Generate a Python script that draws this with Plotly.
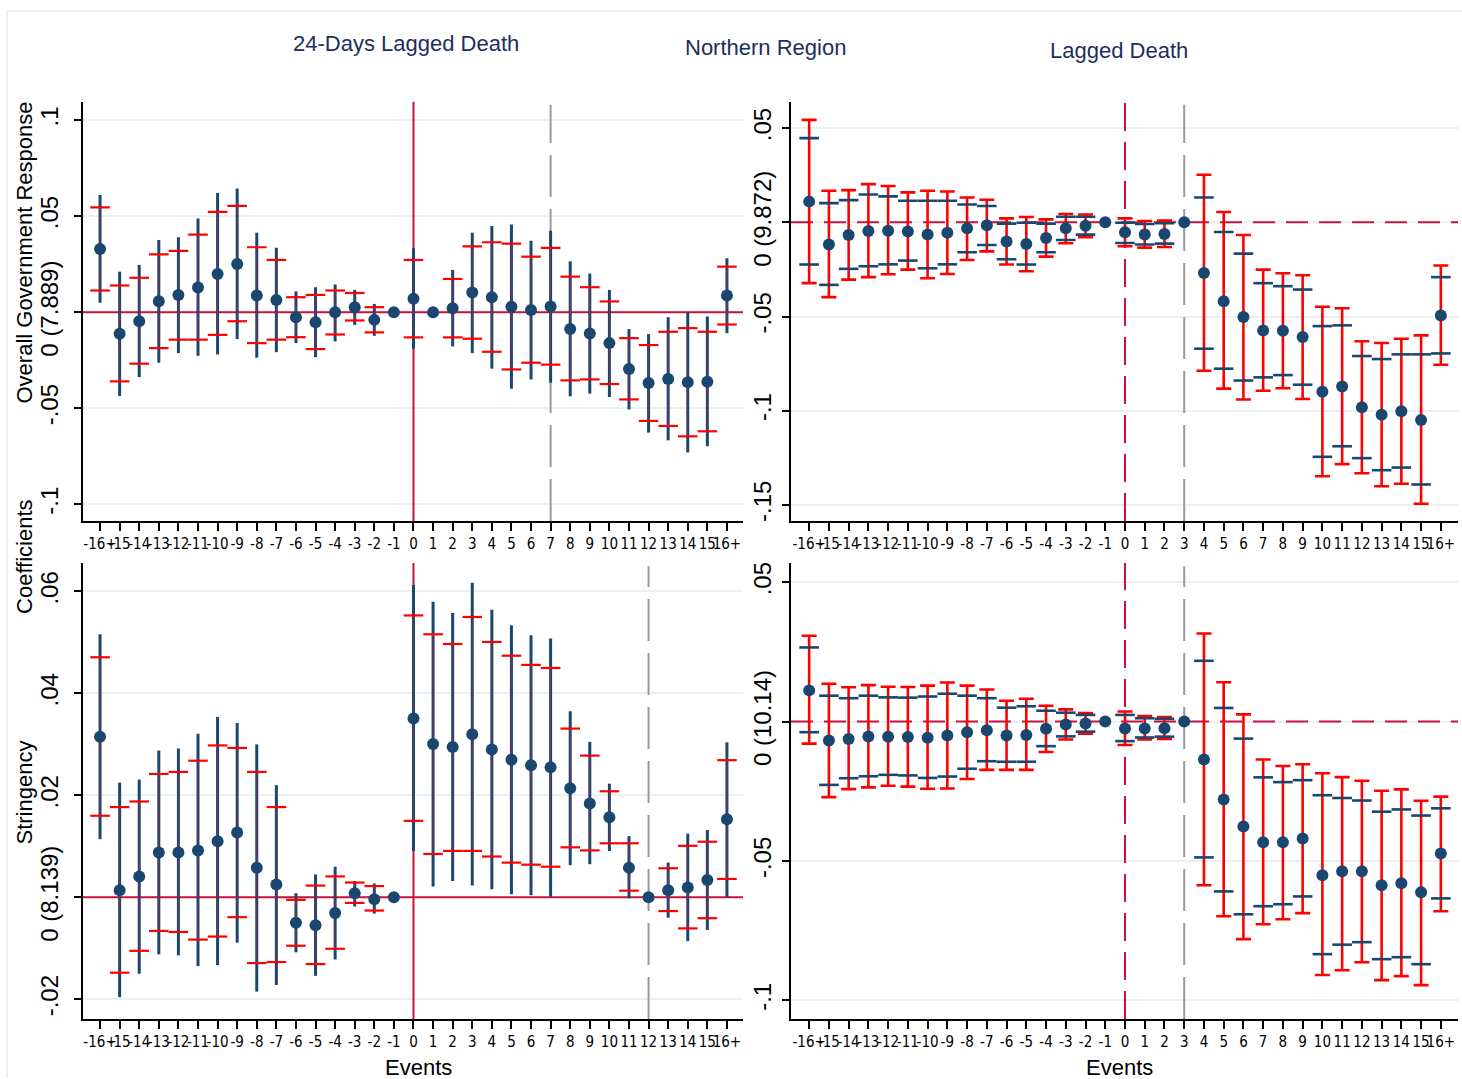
import plotly.graph_objects as go

W, H = 1462, 1079

events = list(range(-16, 17))
event_labels = ['-16+'] + [str(i) for i in range(-15, 16)] + ['16+']

# top left: overall government response, 24-days lagged death (95% outer, 90% inner)
gov24_coef = [0.0329, -0.0112, -0.0047, 0.0057, 0.0090, 0.0128, 0.0199, 0.0251, 0.0087, 0.0064, -0.0026,
              -0.0052, 0.0000, 0.0026, -0.0040, 0.0, 0.0070, 0.0, 0.0021, 0.0102, 0.0078, 0.0028,
              0.0012, 0.0030, -0.0088, -0.0111, -0.0161, -0.0296, -0.0369, -0.0348, -0.0365, -0.0362, 0.0087]
gov24_hi95 = [0.0610, 0.0211, 0.0246, 0.0376, 0.0390, 0.0487, 0.0620, 0.0644, 0.0414, 0.0335, 0.0108,
              0.0130, 0.0144, 0.0116, 0.0043, None, 0.0333, None, 0.0220, 0.0414, 0.0449, 0.0456,
              0.0372, 0.0424, 0.0265, 0.0201, 0.0116, -0.0088, -0.0114, -0.0026, 0.0000, -0.0022, 0.0281]
gov24_lo95 = [0.0049, -0.0436, -0.0338, -0.0263, -0.0213, -0.0227, -0.0220, -0.0140, -0.0237, -0.0208, -0.0161,
              -0.0234, -0.0152, -0.0066, -0.0123, None, -0.0190, None, -0.0178, -0.0213, -0.0294, -0.0398,
              -0.0350, -0.0367, -0.0438, -0.0424, -0.0442, -0.0506, -0.0627, -0.0667, -0.0730, -0.0698, -0.0109]
gov24_hi90 = [0.0546, 0.0139, 0.0179, 0.0301, 0.0319, 0.0404, 0.0522, 0.0553, 0.0338, 0.0272, 0.0078,
              0.0090, 0.0113, 0.0100, 0.0026, None, 0.0272, None, 0.0173, 0.0343, 0.0364, 0.0357,
              0.0289, 0.0335, 0.0185, 0.0130, 0.0056, -0.0135, -0.0171, -0.0102, -0.0083, -0.0102, 0.0237]
gov24_lo90 = [0.0113, -0.0360, -0.0268, -0.0187, -0.0143, -0.0143, -0.0118, -0.0047, -0.0161, -0.0143, -0.0130,
              -0.0192, -0.0116, -0.0043, -0.0105, None, -0.0131, None, -0.0131, -0.0138, -0.0206, -0.0298,
              -0.0263, -0.0273, -0.0355, -0.0350, -0.0374, -0.0454, -0.0566, -0.0592, -0.0646, -0.0620, -0.0064]

# top right: overall government response, lagged death, northern region
govlag_coef = [0.0110, -0.0117, -0.0067, -0.0046, -0.0044, -0.0048, -0.0065, -0.0055, -0.0032, -0.0016, -0.0102,
               -0.0115, -0.0083, -0.0032, -0.0018, 0.0, -0.0053, -0.0065, -0.0062, 0.0, -0.0269, -0.0419,
               -0.0503, -0.0574, -0.0576, -0.0609, -0.0899, -0.0871, -0.0982, -0.1021, -0.1003, -0.1049, -0.0494]
govlag_hi95 = [0.0544, 0.0168, 0.0171, 0.0203, 0.0193, 0.0159, 0.0168, 0.0164, 0.0132, 0.0120, 0.0021,
               0.0028, 0.0016, 0.0044, 0.0042, None, 0.0021, 0.0007, 0.0009, None, 0.0253, 0.0055,
               -0.0067, -0.0251, -0.0270, -0.0281, -0.0448, -0.0456, -0.0631, -0.0641, -0.0618, -0.0600, -0.0229]
govlag_lo95 = [-0.0323, -0.0397, -0.0304, -0.0291, -0.0276, -0.0251, -0.0297, -0.0274, -0.0200, -0.0154, -0.0224,
               -0.0260, -0.0182, -0.0111, -0.0079, None, -0.0127, -0.0134, -0.0131, None, -0.0788, -0.0883,
               -0.0941, -0.0894, -0.0881, -0.0938, -0.1348, -0.1284, -0.1332, -0.1401, -0.1388, -0.1494, -0.0756]
govlag_hi90 = [0.0447, 0.0102, 0.0118, 0.0148, 0.0138, 0.0115, 0.0115, 0.0115, 0.0095, 0.0087, -0.0007,
               -0.0002, -0.0007, 0.0030, 0.0030, None, -0.0002, -0.0009, -0.0005, None, 0.0132, -0.0051,
               -0.0166, -0.0323, -0.0339, -0.0357, -0.0551, -0.0547, -0.0710, -0.0726, -0.0701, -0.0701, -0.0291]
govlag_lo90 = [-0.0224, -0.0332, -0.0247, -0.0233, -0.0223, -0.0203, -0.0244, -0.0223, -0.0159, -0.0120, -0.0196,
               -0.0224, -0.0159, -0.0094, -0.0065, None, -0.0110, -0.0118, -0.0113, None, -0.0671, -0.0777,
               -0.0840, -0.0823, -0.0811, -0.0862, -0.1245, -0.1189, -0.1252, -0.1316, -0.1302, -0.1392, -0.0696]

# bottom left: stringency, 24-days lagged death
str24_coef = [0.0315, 0.0014, 0.0041, 0.0088, 0.0088, 0.0092, 0.0110, 0.0127, 0.0058, 0.0025, -0.0050,
              -0.0055, -0.0031, 0.0008, -0.0004, 0.0, 0.0351, 0.0301, 0.0295, 0.0320, 0.0290, 0.0270,
              0.0259, 0.0255, 0.0214, 0.0184, 0.0157, 0.0058, 0.0, 0.0014, 0.0019, 0.0034, 0.0153]
str24_hi95 = [0.0516, 0.0225, 0.0231, 0.0288, 0.0292, 0.0321, 0.0354, 0.0342, 0.0300, 0.0220, 0.0008,
              0.0045, 0.0060, 0.0032, 0.0027, None, 0.0613, 0.0580, 0.0558, 0.0617, 0.0564, 0.0534,
              0.0514, 0.0508, 0.0365, 0.0305, 0.0223, 0.0120, None, 0.0068, 0.0125, 0.0132, 0.0304]
str24_lo95 = [0.0114, -0.0196, -0.0150, -0.0112, -0.0114, -0.0135, -0.0133, -0.0089, -0.0185, -0.0172, -0.0108,
              -0.0154, -0.0122, -0.0018, -0.0032, None, 0.0091, 0.0021, 0.0032, 0.0023, 0.0016, 0.0006,
              0.0004, 0.0001, 0.0063, 0.0065, 0.0091, -0.0002, None, -0.0040, -0.0086, -0.0064, 0.0000]
str24_hi90 = [0.0471, 0.0177, 0.0188, 0.0242, 0.0246, 0.0268, 0.0298, 0.0293, 0.0246, 0.0177, -0.0005,
              0.0023, 0.0041, 0.0029, 0.0022, None, 0.0553, 0.0516, 0.0497, 0.0550, 0.0501, 0.0474,
              0.0456, 0.0450, 0.0331, 0.0278, 0.0208, 0.0106, None, 0.0057, 0.0101, 0.0109, 0.0269]
str24_lo90 = [0.0160, -0.0148, -0.0105, -0.0066, -0.0068, -0.0083, -0.0077, -0.0039, -0.0129, -0.0127, -0.0095,
              -0.0131, -0.0101, -0.0011, -0.0026, None, 0.0150, 0.0085, 0.0091, 0.0091, 0.0080, 0.0068,
              0.0064, 0.0060, 0.0098, 0.0092, 0.0106, 0.0013, None, -0.0027, -0.0061, -0.0041, 0.0036]

# bottom right: stringency, lagged death
strlag_coef = [0.0112, -0.0068, -0.0062, -0.0053, -0.0054, -0.0055, -0.0058, -0.0050, -0.0038, -0.0031, -0.0050,
               -0.0048, -0.0026, -0.0010, -0.0007, 0.0, -0.0025, -0.0025, -0.0024, 0.0, -0.0136, -0.0279,
               -0.0376, -0.0433, -0.0433, -0.0419, -0.0551, -0.0537, -0.0537, -0.0587, -0.0580, -0.0612, -0.0473]
strlag_hi95 = [0.0308, 0.0136, 0.0123, 0.0131, 0.0125, 0.0124, 0.0129, 0.0140, 0.0129, 0.0115, 0.0075,
               0.0082, 0.0057, 0.0044, 0.0031, None, 0.0036, 0.0020, 0.0016, None, 0.0316, 0.0141,
               0.0026, -0.0136, -0.0159, -0.0153, -0.0185, -0.0199, -0.0212, -0.0248, -0.0243, -0.0284, -0.0269]
strlag_lo95 = [-0.0079, -0.0271, -0.0242, -0.0236, -0.0230, -0.0233, -0.0241, -0.0240, -0.0206, -0.0173, -0.0173,
               -0.0173, -0.0109, -0.0064, -0.0043, None, -0.0084, -0.0064, -0.0062, None, -0.0587, -0.0698,
               -0.0780, -0.0727, -0.0709, -0.0687, -0.0909, -0.0892, -0.0863, -0.0927, -0.0913, -0.0945, -0.0680]
strlag_hi90 = [0.0266, 0.0093, 0.0084, 0.0093, 0.0087, 0.0086, 0.0090, 0.0100, 0.0093, 0.0084, 0.0050,
               0.0055, 0.0039, 0.0032, 0.0024, None, 0.0024, 0.0012, 0.0010, None, 0.0218, 0.0049,
               -0.0061, -0.0200, -0.0217, -0.0210, -0.0264, -0.0274, -0.0283, -0.0323, -0.0315, -0.0337, -0.0311]
strlag_lo90 = [-0.0038, -0.0227, -0.0203, -0.0196, -0.0191, -0.0193, -0.0202, -0.0197, -0.0169, -0.0142, -0.0144,
               -0.0144, -0.0088, -0.0053, -0.0036, None, -0.0070, -0.0057, -0.0054, None, -0.0487, -0.0609,
               -0.0691, -0.0662, -0.0655, -0.0627, -0.0834, -0.0800, -0.0791, -0.0852, -0.0845, -0.0870, -0.0634]

NAVY = '#1a476f'
RED = '#ff0000'
CRIMSON = '#c8133c'
GREY = '#9a9a9a'
GRID = '#eaf1f3'
FONT = 'Liberation Sans, Arial, sans-serif'
NARROW = 'Liberation Sans Narrow, Arial Narrow, DejaVu Sans Condensed, Liberation Sans, sans-serif'

# panel geometry in pixels of the 1462x1079 canvas
left_x = [83 / W, 743 / W]
right_x = [791 / W, 1458 / W]
top_y = [1 - 521 / H, 1 - 101 / H]
bot_y = [1 - 1020 / H, 1 - 563 / H]

panels = {
    1: dict(xd=left_x, yd=top_y, xr=[-16.87, 16.82], yr=[-0.1087, 0.1095],
            tv=[-0.1, -0.05, 0, 0.05, 0.1], tt=['-.1', '-.05', '0 (7.889)', '.05', '.1'],
            cut=7, dashed=False, standoff=7),
    2: dict(xd=right_x, yd=top_y, xr=[-16.92, 16.87], yr=[-0.1586, 0.064],
            tv=[-0.15, -0.1, -0.05, 0, 0.05], tt=['-.15', '-.1', '-.05', '0 (9.872)', '.05'],
            cut=3, dashed=True, standoff=2),
    3: dict(xd=left_x, yd=bot_y, xr=[-16.87, 16.82], yr=[-0.0239, 0.0656],
            tv=[-0.02, 0, 0.02, 0.04, 0.06], tt=['-.02', '0 (8.139)', '.02', '.04', '.06'],
            cut=12, dashed=False, standoff=7),
    4: dict(xd=right_x, yd=bot_y, xr=[-16.92, 16.87], yr=[-0.1067, 0.0569],
            tv=[-0.1, -0.05, 0, 0.05], tt=['-.1', '-.05', '0 (10.14)', '.05'],
            cut=3, dashed=True, standoff=2),
}


def axis_names(n):
    return ('x', 'y') if n == 1 else ('x%d' % n, 'y%d' % n)


def add_refs(fig, n, p):
    # zero lines and the grey cut-off line, drawn as traces so they sit over the grid
    xa, ya = axis_names(n)
    zdash = '22px,11px' if p['dashed'] else 'solid'
    vdash = '28px,11px' if p['dashed'] else 'solid'
    fig.add_trace(go.Scatter(x=p['xr'], y=[0, 0], xaxis=xa, yaxis=ya, mode='lines',
                             line=dict(color=CRIMSON, width=2, dash=zdash)))
    fig.add_trace(go.Scatter(x=[0, 0], y=p['yr'], xaxis=xa, yaxis=ya, mode='lines',
                             line=dict(color=CRIMSON, width=2, dash=vdash)))
    top = p['yr'][1] - 0.007 * (p['yr'][1] - p['yr'][0])
    fig.add_trace(go.Scatter(x=[p['cut'], p['cut']], y=[p['yr'][0], top], xaxis=xa, yaxis=ya, mode='lines',
                             line=dict(color=GREY, width=2, dash='42px,12px')))


def add_panel(fig, n, coef, lo95, hi95, lo90, hi90, style):
    xa, ya = axis_names(n)
    idx = [i for i in range(len(events)) if lo95[i] is not None]
    xs = [events[i] for i in idx]
    cs = [coef[i] for i in idx]
    up95 = [hi95[i] - coef[i] for i in idx]
    dn95 = [coef[i] - lo95[i] for i in idx]
    up90 = [hi90[i] - coef[i] for i in idx]
    dn90 = [coef[i] - lo90[i] for i in idx]
    clear = dict(color='rgba(0,0,0,0)', size=1)

    if style == 'left':
        # outer ci as navy spike, inner ci as red dashes
        fig.add_trace(go.Scatter(x=xs, y=cs, xaxis=xa, yaxis=ya, mode='markers', marker=clear,
                                 error_y=dict(type='data', symmetric=False, array=up95, arrayminus=dn95,
                                              width=0, thickness=3, color=NAVY)))
        fig.add_trace(go.Scatter(x=xs, y=cs, xaxis=xa, yaxis=ya, mode='markers', marker=clear,
                                 error_y=dict(type='data', symmetric=False, array=up90, arrayminus=dn90,
                                              width=0, thickness=1, color='rgba(200,30,70,0.55)')))
        for vals in (hi90, lo90):
            fig.add_trace(go.Scatter(x=xs, y=[vals[i] for i in idx], xaxis=xa, yaxis=ya, mode='markers',
                                     marker=dict(symbol='line-ew', size=14, line=dict(color=RED, width=2.2))))
    else:
        # outer ci as capped red spike, inner ci as navy dashes
        fig.add_trace(go.Scatter(x=xs, y=cs, xaxis=xa, yaxis=ya, mode='markers', marker=clear,
                                 error_y=dict(type='data', symmetric=False, array=up95, arrayminus=dn95,
                                              width=7.5, thickness=2.6, color=RED)))
        for vals in (hi90, lo90):
            fig.add_trace(go.Scatter(x=xs, y=[vals[i] for i in idx], xaxis=xa, yaxis=ya, mode='markers',
                                     marker=dict(symbol='line-ew', size=14, line=dict(color=NAVY, width=2.6))))

    fig.add_trace(go.Scatter(x=events, y=coef, xaxis=xa, yaxis=ya, mode='markers',
                             marker=dict(size=12, color=NAVY)))


fig = go.Figure()
for n, p in panels.items():
    add_refs(fig, n, p)
add_panel(fig, 1, gov24_coef, gov24_lo95, gov24_hi95, gov24_lo90, gov24_hi90, 'left')
add_panel(fig, 2, govlag_coef, govlag_lo95, govlag_hi95, govlag_lo90, govlag_hi90, 'right')
add_panel(fig, 3, str24_coef, str24_lo95, str24_hi95, str24_lo90, str24_hi90, 'left')
add_panel(fig, 4, strlag_coef, strlag_lo95, strlag_hi95, strlag_lo90, strlag_hi90, 'right')

layout = {}
for n, p in panels.items():
    xa, ya = axis_names(n)
    xkey = 'xaxis' if n == 1 else 'xaxis%d' % n
    ykey = 'yaxis' if n == 1 else 'yaxis%d' % n
    layout[xkey] = dict(domain=p['xd'], range=p['xr'], anchor=ya, tickmode='array', tickvals=events,
                        ticktext=event_labels, tickangle=0, showgrid=False, zeroline=False,
                        showline=True, linecolor='black', linewidth=1.5, ticks='outside', ticklen=8,
                        tickwidth=1.5, tickcolor='black', tickfont=dict(family=NARROW, size=15, color='black'))
    layout[ykey] = dict(domain=p['yd'], range=p['yr'], anchor=xa, tickmode='array', tickvals=p['tv'],
                        ticktext=p['tt'], tickangle=-90, showgrid=True, gridcolor=GRID, gridwidth=2,
                        zeroline=False, showline=True, linecolor='black', linewidth=1.5, ticks='outside',
                        ticklen=7, tickwidth=1.5, tickcolor='black', ticklabelstandoff=p['standoff'],
                        tickfont=dict(family=FONT, size=24, color='black'))

# faint outline of the graph region
shapes = [
    dict(type='line', xref='paper', yref='paper', x0=7 / W, x1=7 / W, y0=0, y1=1 - 10 / H,
         line=dict(color='#e6eef0', width=1.5)),
    dict(type='line', xref='paper', yref='paper', x0=7 / W, x1=1, y0=1 - 10 / H, y1=1 - 10 / H,
         line=dict(color='#e6eef0', width=1.5)),
]


def note(text, px, py, size=22, color='black', angle=0):
    return dict(text=text, x=px / W, y=1 - py / H, xref='paper', yref='paper', showarrow=False,
                textangle=angle, xanchor='center', yanchor='middle',
                font=dict(family=FONT, size=size, color=color))


annotations = [
    note('24-Days Lagged Death', 406, 43, color='#1c2f5e'),
    note('Northern Region', 766, 47, color='#1c2f5e'),
    note('Lagged Death', 1119, 50, color='#1c2f5e'),
    note('Overall Government Response', 25, 252, angle=-90),
    note('Coefficients', 25, 557, angle=-90),
    note('Stringency', 25, 793, angle=-90),
    note('Events', 418, 1068),
    note('Events', 1119, 1068),
]

fig.update_layout(
    width=W, height=H,
    margin=dict(l=0, r=0, t=0, b=0),
    paper_bgcolor='white', plot_bgcolor='white',
    showlegend=False,
    font=dict(family=FONT, color='black'),
    shapes=shapes,
    annotations=annotations,
    **layout
)

fig.write_html('out.html', config={'displayModeBar': False},
               post_script="document.body.style.margin='0';")
